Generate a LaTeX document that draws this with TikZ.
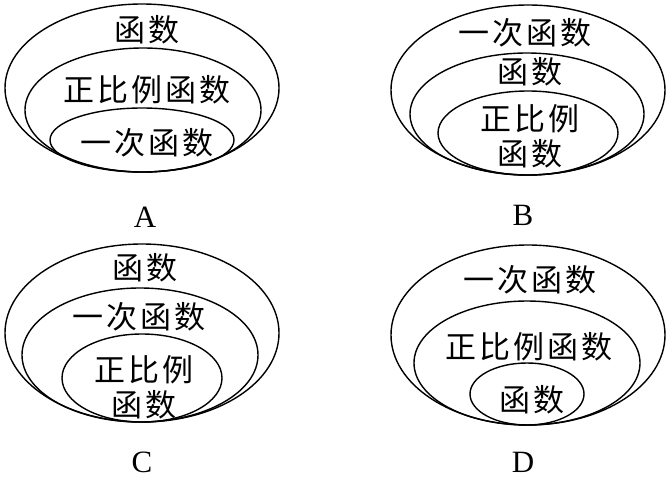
\documentclass[tikz,border=0pt]{standalone}
\usepackage{fontspec}
\newfontfamily\cjk[LetterSpace=10]{Noto Sans CJK SC}
\newfontfamily\letterfont{Liberation Serif}
\usetikzlibrary{positioning}
\tikzset{
  rim/.style={line width=1.4pt},
  word/.style={font=\cjk\fontsize{31}{35}\selectfont,align=center,inner sep=0pt},
  choice/.style={font=\letterfont\fontsize{31}{32}\selectfont,inner sep=0pt},
}

\begin{document}
\begin{tikzpicture}[x=1pt,y=-1pt]
  \useasboundingbox (0,0) rectangle (669,480);
  % A
  \draw[rim] (142,88) ellipse [x radius=137,y radius=84];
  \draw[rim] (143,110) ellipse [x radius=118,y radius=62];
  \draw[rim] (142,140) ellipse [x radius=92,y radius=32];
  \node[word] (a1) at (147,30) {函数};
  \node[word] (a2) at (147,90) {正比例函数};
  \node[word] (a3) at (147,143) {一次函数};
  \node[choice] (la) at (145,217) {A};
  % B
  \draw[rim] (528,90) ellipse [x radius=137,y radius=85];
  \draw[rim] (527,114) ellipse [x radius=117,y radius=61];
  \draw[rim] (528,133) ellipse [x radius=90,y radius=42];
  \node[word] (b1) at (525,33) {一次函数};
  \node[word] (b2) at (530,72) {函数};
  \node[word] (b3) at (530,136) {正比例\\函数};
  \node[choice] (lb) at (523,215) {B};
  % C
  \draw[rim] (142,333) ellipse [x radius=137,y radius=89];
  \draw[rim] (140,355) ellipse [x radius=118,y radius=67];
  \draw[rim] (142,378) ellipse [x radius=80,y radius=44];
  \node[word] (c1) at (145,268) {函数};
  \node[word] (c2) at (139,317) {一次函数};
  \node[word] (c3) at (144,387) {正比例\\函数};
  \node[choice] (lc) at (142,462) {C};
  % D
  \draw[rim] (528,335) ellipse [x radius=137,y radius=90];
  \draw[rim] (527,363) ellipse [x radius=113,y radius=62];
  \draw[rim] (527,394) ellipse [x radius=57,y radius=31];
  \node[word] (d1) at (530,280) {一次函数};
  \node[word] (d2) at (529,347) {正比例函数};
  \node[word] (d3) at (532,400) {函数};
  \node[choice] (ld) at (523,462) {D};
\end{tikzpicture}
\end{document}
